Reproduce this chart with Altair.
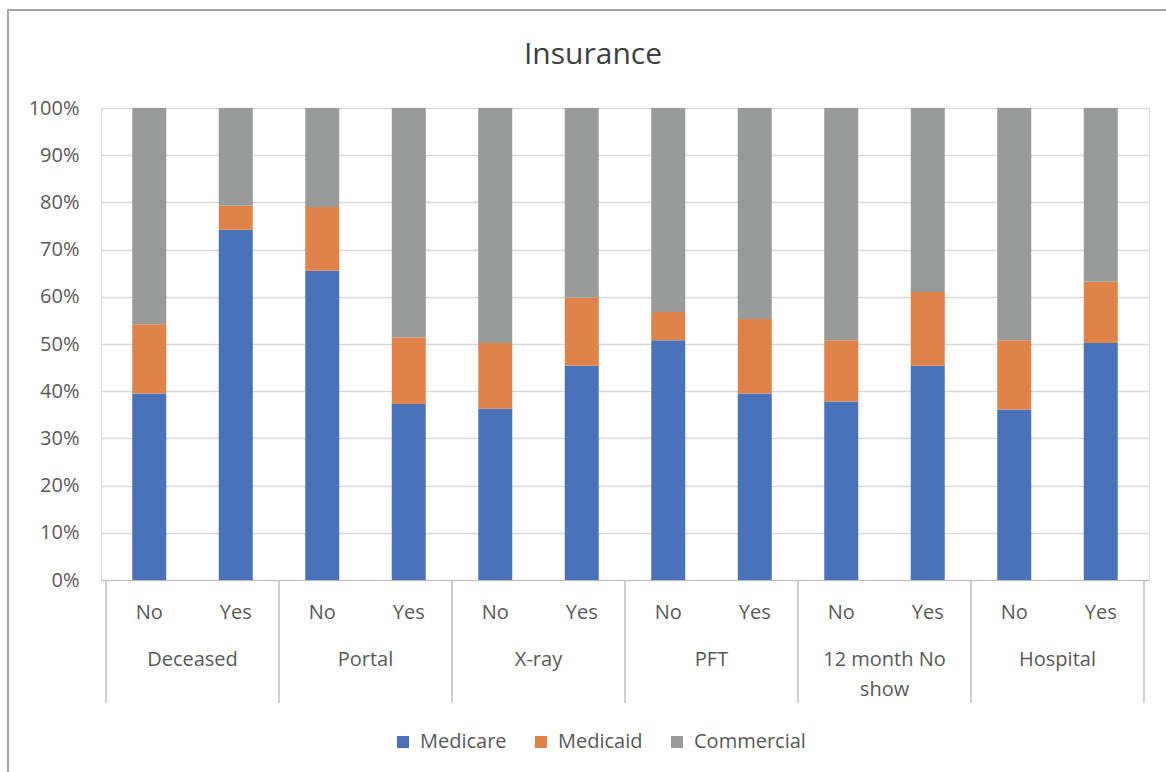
import altair as alt
import pandas as pd

groups = ["Deceased", "Portal", "X-ray", "PFT", "12 month No\nshow", "Hospital"]
answers = ["No", "Yes"]
series = ["Medicare", "Medicaid", "Commercial"]
colors = ["#4a72b9", "#e0834b", "#999b9b"]

medicare = [39.5, 74.2, 65.5, 37.3, 36.3, 45.4, 50.8, 39.5, 37.8, 45.4, 36.1, 50.2]
medicaid = [14.7, 5.1, 13.5, 14.1, 13.9, 14.4, 6.0, 15.8, 13.0, 15.6, 14.7, 13.0]
commercial = [45.8, 20.7, 21.0, 48.6, 49.8, 40.2, 43.2, 44.7, 49.2, 39.0, 49.2, 36.8]

W, H = 1048, 472
LEFT, TOP = 101, 108
FONT = "Open Sans"
TXT = "#595959"

rows = []
for i in range(12):
    g = groups[i // 2]
    a = answers[i % 2]
    for k, (s, vals) in enumerate(zip(series, [medicare, medicaid, commercial])):
        rows.append({"pos": i + 0.5, "group": g, "answer": a, "series": s,
                     "order": k, "value": vals[i] / 100.0})
df = pd.DataFrame(rows)

ans_df = pd.DataFrame([{"pos": i + 0.5, "label": answers[i % 2]} for i in range(12)])
grp_df = pd.DataFrame([{"pos": 2 * j + 1, "label": groups[j]} for j in range(len(groups))])
sep_df = pd.DataFrame({"pos": [2 * j for j in range(len(groups) + 1)]})
frame_df = pd.DataFrame({"k": [0]})

xscale = alt.Scale(domain=[0, 12], nice=False, zero=False)

frame = alt.Chart(frame_df).mark_rect(fill=None, stroke="#a6a6a6", strokeWidth=2).encode(
    x=alt.value(8 - LEFT), x2=alt.value(2000), y=alt.value(10 - TOP), y2=alt.value(2000)
)

bars = alt.Chart(df).mark_bar(size=34).encode(
    x=alt.X("pos:Q", scale=xscale,
            axis=alt.Axis(labels=False, ticks=False, grid=False, domain=True,
                          domainColor="#bfbfbf", domainWidth=1, title=None)),
    y=alt.Y("value:Q", stack=True,
            scale=alt.Scale(domain=[0, 1], nice=False),
            axis=alt.Axis(format=".0%", values=[i / 10 for i in range(11)],
                          domain=False, ticks=False, gridColor="#d9d9d9", gridWidth=1.5,
                          labelFont=FONT, labelFontSize=20, labelColor=TXT,
                          labelPadding=22, title=None)),
    color=alt.Color("series:N", scale=alt.Scale(domain=series, range=colors),
                    sort=series,
                    legend=alt.Legend(orient="none", legendX=393 - LEFT, legendY=624,
                                      direction="horizontal", title=None,
                                      symbolType="square", symbolSize=144,
                                      symbolStrokeWidth=0, labelOffset=7,
                                      labelFont=FONT, labelFontSize=20,
                                      labelColor=TXT, columnPadding=24)),
    order=alt.Order("order:Q"),
)

seps = alt.Chart(sep_df).mark_rule(color="#bfbfbf", strokeWidth=1.5).encode(
    x=alt.X("pos:Q", scale=xscale), y=alt.value(H), y2=alt.value(H + 123)
)

ans_text = alt.Chart(ans_df).mark_text(font=FONT, fontSize=20, color=TXT,
                                      baseline="middle").encode(
    x=alt.X("pos:Q", scale=xscale), y=alt.value(H + 33), text="label:N"
)

grp_text = alt.Chart(grp_df).mark_text(font=FONT, fontSize=20, color=TXT,
                                      baseline="middle", lineBreak="\n",
                                      lineHeight=30).encode(
    x=alt.X("pos:Q", scale=xscale), y=alt.value(H + 80), text="label:N"
)

chart = alt.layer(frame, bars, seps, ans_text, grp_text).properties(
    width=W, height=H,
    title=alt.TitleParams("Insurance", font=FONT, fontSize=30, fontWeight="normal",
                          color="#404040", anchor="middle", dx=-32,
                          baseline="alphabetic", offset=-85),
    autosize=alt.AutoSizeParams(type="none"),
    padding={"left": LEFT, "top": TOP, "right": 17, "bottom": 192},
).configure_view(stroke=None).configure(background="white")

chart.save("out.html", embed_options={"renderer": "svg", "actions": False})
